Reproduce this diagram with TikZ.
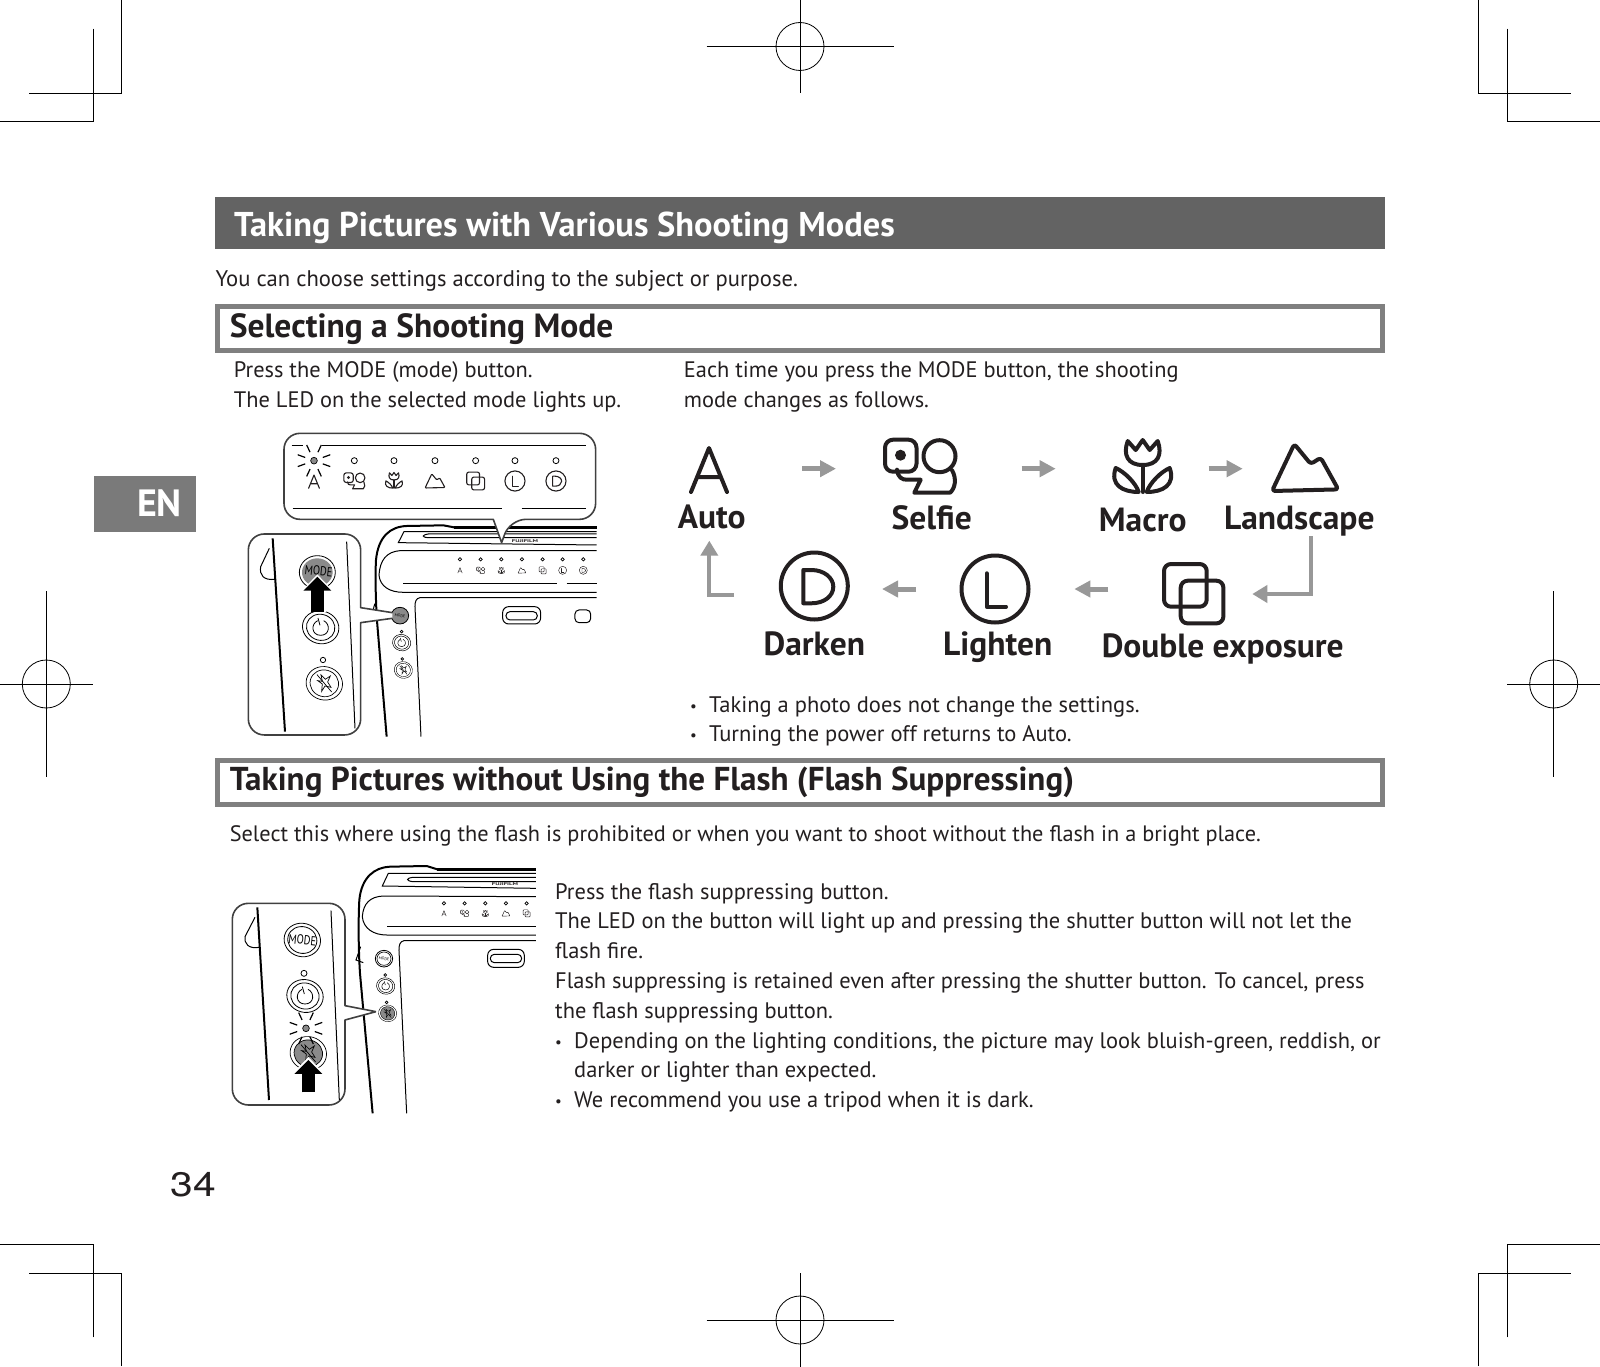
\documentclass[tikz,border=0pt]{standalone}
\usepackage{fontspec}
\setmainfont{PT Sans}
\newfontfamily\pagefont{TeX Gyre Heros}
\usetikzlibrary{arrows.meta, calc}
\definecolor{inkdark}{HTML}{231F20}
\definecolor{bargray}{HTML}{636363}
\definecolor{framegray}{HTML}{808080}
\definecolor{tabgray}{HTML}{7A7A7A}
\definecolor{flowgray}{HTML}{989898}
\definecolor{ledgray}{HTML}{8A8A8A}
\newcommand{\tinydot}{\raisebox{1pt}{\fontsize{15}{15}\selectfont\textbullet}}
\newcommand{\iconk}{1}
\tikzset{
  cropline/.style={line width=0.8pt, black},
  bodytext/.style={anchor=north west, inner sep=0pt, align=left, text=inkdark, font=\fontsize{22.4}{29.8}\selectfont},
  sectext/.style={anchor=base west, inner sep=0pt, text=inkdark, font=\fontsize{33.2}{36}\selectfont\bfseries},
  secframe/.style={rectangle, draw=framegray, fill=white, line width=5pt, minimum width=1165pt, minimum height=44pt},
  flowlabel/.style={anchor=base, inner sep=0pt, text=inkdark, font=\fontsize{33.5}{36}\selectfont\bfseries},
  flowarr/.style={-{Triangle[length=16pt,width=16pt]}, line width=5pt, flowgray},
  bendarr/.style={-{Triangle[length=15pt,width=17pt]}, line width=4.3pt, flowgray},
  pressarr/.style={-{Triangle[length=14pt,width=27pt]}, line width=13pt, black},
  icon/.style={line cap=round, line join=round, inkdark},
  bubble/.style={draw=black!75, fill=white, line width=1.6pt, line join=round},
  body/.style={line width=1pt, black},
  heavy/.style={line width=2pt, black},
  pics/iconA/.style={code={
    \draw[icon] (-18,22) -- (0,-22) -- (18,22) (-11.5,7) -- (11.5,7);
  }},
  pics/iconSelfie/.style={code={
    \pgfmathsetlengthmacro{\crn}{8pt*\iconk}
    \draw[icon, rounded corners=\crn] (-35,-27) rectangle (-3.5,5);
    \fill[inkdark] (-19.5,-11.5) circle (5.5);
    \draw[icon] (19.5,-10.5) circle (16);
    \draw[icon] (-23,3) .. controls (-22,11) and (-18,13) .. (-13,13) -- (0.7,13) -- (-5.7,26) -- (30,26) .. controls (35,22) and (37,12) .. (32,3.5);
  }},
  pics/iconMacro/.style={code={
    \draw[icon] (-15,-24) -- (-7,-15) -- (0,-25) -- (7,-15) -- (15,-24) .. controls (20,-10) and (15,0) .. (0,0) .. controls (-15,0) and (-20,-10) .. (-15,-24) -- cycle;
    \draw[icon] (0,0) -- (0,27);
    \draw[icon] (-27,3) .. controls (-33,20) and (-20,27) .. (-4,27) .. controls (-7,18) and (-18,7) .. (-27,3) -- cycle;
    \draw[icon] (27,3) .. controls (33,20) and (20,27) .. (4,27) .. controls (7,18) and (18,7) .. (27,3) -- cycle;
  }},
  pics/iconLandscape/.style={code={
    \pgfmathsetlengthmacro{\crn}{3pt*\iconk}
    \draw[icon, rounded corners=\crn] (-33,23.3) -- (-10.7,-23.7) -- (5.7,-3.7) -- (15.7,-10) -- (33.3,21.7) -- cycle;
  }},
  pics/iconDouble/.style={code={
    \pgfmathsetlengthmacro{\crn}{7pt*\iconk}
    \draw[icon, rounded corners=\crn] (-29.7,-29.7) rectangle (13,13);
    \draw[icon, rounded corners=\crn] (-13,-13) rectangle (29.7,29.7);
  }},
  pics/iconL/.style={code={
    \draw[icon] (0,0) circle (33.5);
    \draw[icon] (-8.3,-15.7) -- (-8.3,17.7) -- (11,17.7);
  }},
  pics/iconD/.style={code={
    \draw[icon] (0,0) circle (33.5);
    \draw[icon] (-11,-16) -- (-3,-16) .. controls (10,-16) and (19,-8) .. (19,0.7) .. controls (19,10) and (10,17.3) .. (-3,17.3) -- (-11,17.3) -- cycle;
  }},
  pics/ledrays/.style={code={
    \foreach \a in {20,65,115,160,200,245,295,340} { \draw[black, line width=1.2pt] (\a:28) -- (\a:52); }
    \draw[black, fill=ledgray, line width=.7pt] (0,0) circle (10);
  }},
  pics/timerbtn/.style={code={
    \draw[fill=white] (0,0) ellipse [x radius=55, y radius=49, rotate=-15];
    \draw (0,0) ellipse [x radius=43, y radius=39, rotate=-15];
    \draw (-9,-20) .. controls (-30,-10) and (-28,24) .. (0,24) .. controls (28,24) and (30,-10) .. (9,-20);
    \draw (-8,-28) -- (-2,-6);
  }},
  pics/flashbtn/.style={code={
    \draw[fill=white] (0,0) ellipse [x radius=55, y radius=50, rotate=-15];
    \draw[fill=#1] (0,0) ellipse [x radius=43, y radius=40, rotate=-15];
    \draw (-10,-25) -- (3,-12) -- (18,-22) -- (10,-4) -- (20,12) -- (2,8) -- (-8,24) -- (-6,2) -- (-20,-8) -- (-6,-6) -- cycle;
    \draw (-22,-26) -- (22,26);
  }},
  pics/flashbtn/.default=white,
}

\begin{document}
\begin{tikzpicture}[x=1pt, y=-1pt]
  \useasboundingbox[fill=white] (0,0) rectangle (1600,1367);

  % Corner marks
  \foreach \sx/\sy/\ox/\oy in {1/1/0/0,-1/1/1600/0,1/-1/0/1366,-1/-1/1600/1366} {
    \begin{scope}[shift={(\ox,\oy)}, xscale=\sx, yscale=\sy]
      \draw[cropline] (121.4,0) -- (121.4,93) -- (28.6,93);
      \draw[cropline] (93,28.6) -- (93,121.4) -- (0,121.4);
    \end{scope}
  }

  % Register marks
  \foreach \cx/\cy/\hx/\hy in {800/46.5/93.5/46.5,46.3/684/46.3/93,1553.7/684/46.3/93,800/1320/93.5/47} {
    \draw[cropline] (\cx,\cy) circle (24);
    \draw[cropline] (\cx-\hx,\cy) -- (\cx+\hx,\cy);
    \draw[cropline] (\cx,\cy-\hy) -- (\cx,\cy+\hy);
  }

  % Language tab and page number
  \node[rectangle, fill=tabgray, minimum width=102pt, minimum height=56pt, inner sep=0pt] (lang) at (145,503.5) {};
  \node[text=white, inner sep=0pt, font=\fontsize{38}{40}\selectfont\bfseries] (langtext) at (159.5,503.5) {EN};
  \node[anchor=base, inner sep=0pt, text=inkdark, xscale=1.2, font=\pagefont\fontsize{34}{36}\selectfont] (pagenum) at (193,1196.5) {34};

  % Title bar
  \node[rectangle, fill=bargray, minimum width=1170pt, minimum height=52pt, inner sep=0pt] (titlebar) at (800,223) {};
  \node[anchor=base west, inner sep=0pt, text=white, font=\fontsize{34.4}{36}\selectfont\bfseries] (titletext) at (234,236) {Taking Pictures with Various Shooting Modes};
  \node[bodytext, font=\fontsize{22.6}{29.8}\selectfont] (intro) at (215.3,270.5) {You can choose settings according to the subject or purpose.};

  % Selecting a mode
  \node[secframe] (secA) at (800,328.6) {};
  \node[sectext, font=\fontsize{33.5}{36}\selectfont\bfseries] (secAtext) at (229.6,337) {Selecting a Shooting Mode};
  \node[bodytext] (pressA) at (233.7,361.3) {Press the MODE (mode) button.\\The LED on the selected mode lights up.};
  \node[bodytext] (eachA) at (683.7,361.3) {Each time you press the MODE button, the shooting\\mode changes as follows.};

  % Mode cycle
  \coordinate (auto) at (709,468.7);
  \coordinate (selfie) at (920,468.7);
  \coordinate (macro) at (1142.7,468.7);
  \coordinate (landscape) at (1305,468.7);
  \coordinate (double) at (1193.7,589);
  \coordinate (lighten) at (995,589);
  \coordinate (darken) at (814.3,589);
  \pic[line width=4pt] at (709,470) {iconA};
  \pic[line width=4pt] at (920,466.7) {iconSelfie};
  \pic[line width=4pt] at (1142.7,465) {iconMacro};
  \pic[line width=4pt] at (1305,467.7) {iconLandscape};
  \pic[line width=4pt] at (1193.7,593.7) {iconDouble};
  \pic[line width=4pt] at (995,589) {iconL};
  \pic[line width=4pt] at (814.3,586) {iconD};
  \node[flowlabel] (autotext) at (711.7,528.5) {Auto};
  \node[flowlabel] (selfietext) at (931.7,529) {Selfie};
  \node[flowlabel] (macrotext) at (1142.7,531.7) {Macro};
  \node[flowlabel] (landscapetext) at (1299.3,529) {Landscape};
  \node[flowlabel] (doubletext) at (1222.7,657) {Double exposure};
  \node[flowlabel] (lightentext) at (997.7,655.3) {Lighten};
  \node[flowlabel] (darkentext) at (814.3,655.3) {Darken};

  \draw[flowarr, shorten <=93.3pt, shorten >=84pt] (auto) -- (selfie);
  \draw[flowarr, shorten <=101.7pt, shorten >=87pt] (selfie) -- (macro);
  \draw[flowarr, shorten <=66pt, shorten >=62.3pt] (macro) -- (landscape);
  \draw[flowarr, shorten <=85.4pt, shorten >=79.3pt] (double) -- (lighten);
  \draw[flowarr, shorten <=79pt, shorten >=67.7pt] (lighten) -- (darken);
  \coordinate (landout) at (1310.7,536);
  \coordinate (doublein) at (1252.3,594);
  \coordinate (darkout) at (734,595.3);
  \coordinate (autoin) at (709.3,540.7);
  \draw[bendarr] (landout) |- (doublein);
  \draw[bendarr] (darkout) -| (autoin);

  \node[bodytext, font=\fontsize{22.5}{29.8}\selectfont] (notesA) at (690,696) {\makebox[19pt][l]{\tinydot}Taking a photo does not change the settings.\\\makebox[19pt][l]{\tinydot}Turning the power off returns to Auto.};

  % Camera, mode button
  \begin{scope}[shift={(230,420)}, scale=0.3333]
    \draw[heavy] (470,950) -- (440,590) .. controls (436,500) and (436,460) .. (438,420) .. controls (445,350) and (480,320) .. (530,318) -- (640,316) -- (672,322);
    \draw[line width=2.6pt, black] (672,322) -- (1100,322);
    \draw[body] (1100,335) -- (522,335) -- (505,368) -- (1100,375);
    \draw[body] (1100,342) -- (595,342) .. controls (575,345) and (575,352) .. (595,353) -- (1100,353);
    \node[inner sep=0pt, xscale=1.7, text=inkdark, font=\fontsize{4}{4}\selectfont\bfseries] (brandA) at (885,362) {FUJIFILM};
    \draw[body] (1100,392) -- (510,392) .. controls (470,395) and (450,420) .. (447,465) .. controls (450,500) and (480,517) .. (520,517) -- (1100,517);
    \draw[body] (520,492) -- (980,492) (1010,492) -- (1100,492);
    \draw[body] (1100,533) -- (570,533) .. controls (558,535) and (555,545) .. (555,560) -- (573,950);
    \draw[body] (430,570) .. controls (432,555) and (436,548) .. (440,545);
    \foreach \lx/\ic in {690/iconA,752/iconSelfie,814/iconMacro,876/iconLandscape,938/iconDouble,998/iconL,1060/iconD} {
      \renewcommand{\iconk}{.12}
      \draw[black, line width=.7pt] (\lx,418) circle (5);
      \pic[scale=.12, line width=.45pt] at (\lx,451) {\ic};
    }
    \draw[body, rounded corners=6pt] (818,560) rectangle (932,612);
    \draw[body, rounded corners=4pt] (828,575) rectangle (922,600);
    \draw[body, rounded corners=4pt] (1035,570) rectangle (1082,608);

    % Small buttons
    \draw[black, fill=ledgray, line width=.8pt] (510,587) ellipse [x radius=26, y radius=25];
    \node[inner sep=0pt, text=black, rotate=-8, font=\fontsize{4}{4}\selectfont] (modesmall) at (510,587) {MODE};
    \draw[black, line width=.7pt] (515,635) circle (4);
    \pic[scale=.1667, line width=.5pt] at (515,668) {timerbtn};
    \draw[black, line width=.7pt] (517,717) circle (4);
    \pic[scale=.1667, line width=.4pt] at (520,750) {flashbtn};

    % Top bubble
    \draw[bubble] (162,170) [rounded corners=16pt] -- (162,40) -- (1097,40) -- (1097,298) -- (840,298) [sharp corners] -- (815,368) -- (790,298) [rounded corners=16pt] -- (162,298) -- cycle;
    \draw[body] (185,75) -- (218,75) (275,75) -- (1068,75);
    \draw[body] (188,265) -- (815,265) (875,265) -- (1068,265);
    \pic[scale=.3333] at (252,122) {ledrays};
    \foreach \lx/\ic/\iy in {252/iconA/185,373/iconSelfie/183,492/iconMacro/180,615/iconLandscape/183,737/iconDouble/183,855/iconL/183,978/iconD/183} {
      \renewcommand{\iconk}{.3}
      \pic[scale=.3, line width=1.1pt] at (\lx,\iy) {\ic};
    }
    \foreach \lx in {373,492,615,737,855,978} { \draw[black, line width=.8pt] (\lx,122) circle (9); }

    % Side bubble
    \draw[bubble] (487,578) -- (392,563) [rounded corners=16pt] -- (392,342) -- (55,342) -- (55,945) -- (392,945) [sharp corners] -- (392,608) -- (487,595);
    \draw[heavy] (128,355) -- (165,935);
    \draw[body] (350,365) -- (375,925);
    \draw[body] (118,385) -- (92,440) .. controls (88,465) and (100,482) .. (136,478);
    \draw[black, fill=white, line width=.8pt] (262,457) ellipse [x radius=54, y radius=50];
    \fill[ledgray] (262,457) ellipse [x radius=46, y radius=42];
    \node[inner sep=0pt, text=black, rotate=-6, xscale=.8, font=\fontsize{13}{13}\selectfont] (modebig) at (266,453) {MODE};
    \pic[scale=.3333, line width=.8pt] at (272,622) {timerbtn};
    \draw[black, line width=.8pt] (279,720) circle (8);
    \pic[scale=.3333, line width=.7pt] at (283,790) {flashbtn};
    \coordinate (pressbaseA) at (262,575);
    \coordinate (presstipA) at (262,470);
    \draw[pressarr, white, line width=17pt, -{Triangle[length=18pt,width=33pt]}] (pressbaseA) -- ++(0,-112);
    \draw[pressarr] (pressbaseA) -- (presstipA);
  \end{scope}

  % Flash section
  \node[secframe] (secB) at (800,782.5) {};
  \node[sectext, font=\fontsize{33.1}{36}\selectfont\bfseries] (secBtext) at (229.6,790.5) {Taking Pictures without Using the Flash (Flash Suppressing)};
  \node[bodytext, font=\fontsize{22.3}{29.8}\selectfont] (selectB) at (229.6,825.5) {Select this where using the flash is prohibited or when you want to shoot without the flash in a bright place.};
  \node[bodytext, font=\fontsize{22.45}{29.8}\selectfont] (pressB) at (555,883) {Press the flash suppressing button.\\The LED on the button will light up and pressing the shutter button will not let the\\flash fire.\\Flash suppressing is retained even after pressing the shutter button. To cancel, press\\the flash suppressing button.\\\makebox[19pt][l]{\tinydot}Depending on the lighting conditions, the picture may look bluish-green, reddish, or\\\hspace*{19pt}darker or lighter than expected.\\\makebox[19pt][l]{\tinydot}We recommend you use a tripod when it is dark.};

  % Camera, flash button
  \begin{scope}[shift={(220,860)}, scale=0.3333]
    \draw[heavy] (458,760) -- (420,340) .. controls (415,260) and (415,180) .. (418,120) .. controls (425,50) and (465,22) .. (510,20) -- (620,18) -- (652,28);
    \draw[line width=2.6pt, black] (652,28) -- (948,28);
    \draw[body] (948,40) -- (505,40) -- (487,78) -- (948,85);
    \draw[body] (948,52) -- (578,52) .. controls (558,55) and (558,62) .. (578,65) -- (948,65);
    \node[inner sep=0pt, xscale=1.7, text=inkdark, font=\fontsize{4}{4}\selectfont\bfseries] (brandB) at (855,72) {FUJIFILM};
    \draw[body] (948,110) -- (490,108) .. controls (450,110) and (430,130) .. (427,170) .. controls (430,205) and (460,225) .. (500,225) -- (948,225);
    \draw[body] (502,200) -- (948,200);
    \draw[body] (948,242) -- (552,242) .. controls (540,244) and (537,255) .. (537,270) -- (560,760);
    \draw[body] (422,260) -- (408,300) -- (430,308);
    \foreach \lx/\ic in {672/iconA,734/iconSelfie,796/iconMacro,858/iconLandscape,920/iconDouble} {
      \renewcommand{\iconk}{.12}
      \draw[black, line width=.7pt] (\lx,130) circle (5);
      \pic[scale=.12, line width=.45pt] at (\lx,160) {\ic};
    }
    \draw[body, rounded corners=6pt] (803,268) rectangle (913,322);
    \draw[body, rounded corners=4pt] (811,283) rectangle (905,308);

    % Small buttons
    \draw[black, fill=white, line width=.8pt] (492,296) ellipse [x radius=26, y radius=25];
    \draw[black, line width=.6pt] (492,296) ellipse [x radius=21, y radius=20];
    \node[inner sep=0pt, text=black, rotate=-8, font=\fontsize{4}{4}\selectfont] (modesmallB) at (492,296) {MODE};
    \draw[black, line width=.7pt] (496,345) circle (4);
    \pic[scale=.1667, line width=.5pt] at (497,378) {timerbtn};
    \draw[black, line width=.7pt] (500,427) circle (4);
    \pic[scale=.1667, line width=.4pt] at (503,460) {flashbtn=ledgray};

    % Side bubble
    \draw[bubble] (468,455) -- (375,437) [rounded corners=16pt] -- (375,130) -- (37,130) -- (37,735) -- (375,735) [sharp corners] -- (375,480) -- (468,455);
    \draw[heavy] (112,142) -- (147,720);
    \draw[body] (333,152) -- (358,720);
    \draw[body] (105,172) -- (75,230) .. controls (72,250) and (85,268) .. (118,262);
    \draw[black, fill=white, line width=.8pt] (247,240) ellipse [x radius=55, y radius=50, rotate=-15];
    \draw[black, line width=.8pt] (247,240) ellipse [x radius=44, y radius=40, rotate=-15];
    \node[inner sep=0pt, text=black, rotate=-6, xscale=.8, font=\fontsize{13}{13}\selectfont] (modebigB) at (247,240) {MODE};
    \draw[black, line width=.8pt] (252,340) circle (9);
    \pic[scale=.3333, line width=.8pt] at (255,408) {timerbtn};
    \pic[scale=.3333, line width=.7pt] at (265,580) {flashbtn=ledgray};
    \pic[scale=.3333] at (258,505) {ledrays};
    \coordinate (pressbaseB) at (265,697);
    \coordinate (presstipB) at (265,600);
    \draw[pressarr, white, line width=17pt, -{Triangle[length=18pt,width=33pt]}] (pressbaseB) -- ++(0,-106);
    \draw[pressarr] (pressbaseB) -- (presstipB);
  \end{scope}
\end{tikzpicture}
\end{document}
